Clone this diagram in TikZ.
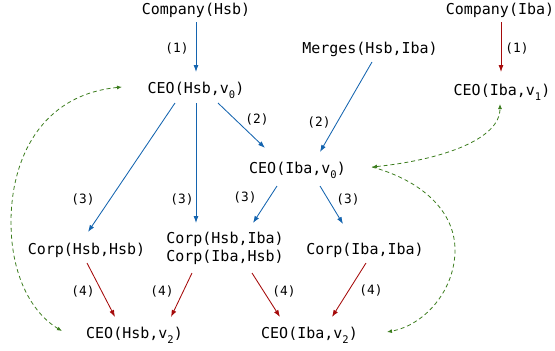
\documentclass[tikz,border=0pt]{standalone}
\usepackage{fontspec}
\setmonofont{DejaVu Sans Mono}
\usetikzlibrary{arrows.meta}
\definecolor{cblue}{RGB}{20,100,175}
\definecolor{cred}{RGB}{165,10,10}
\definecolor{cgreen}{RGB}{60,125,30}
\newcommand{\lowsub}[1]{\raisebox{-5pt}{\fontsize{10.5}{12}\selectfont #1}}
\begin{document}
\begin{tikzpicture}[x=1pt,y=-1pt,
  txt/.style={font=\ttfamily\fontsize{15}{18}\selectfont, inner sep=0pt, anchor=base},
  lbl/.style={font=\ttfamily\fontsize{12.8}{15}\selectfont, inner sep=0pt},
  barrow/.style={draw=cblue, line width=0.85pt, -{Latex[length=7pt,width=5pt]}},
  rarrow/.style={draw=cred, line width=0.85pt, -{Latex[length=7pt,width=5pt]}},
  garrow/.style={draw=cgreen, line width=0.8pt, dash pattern=on 4pt off 3pt, {Latex[length=5pt,width=4pt]}-{Latex[length=5pt,width=4pt]}},
  garrowend/.style={draw=cgreen, line width=0.8pt, dash pattern=on 4pt off 3pt, -{Latex[length=5pt,width=4pt]}}]
\useasboundingbox (0,0) rectangle (555,351);
% nodes
\node[txt] (ch) at (196,14) {Company(Hsb)};
\node[txt] (ci) at (500,14) {Company(Iba)};
\node[txt] (m) at (370,53) {Merges(Hsb,Iba)};
\node[txt] (h0) at (196,93) {CEO(Hsb,v\lowsub{0})};
\node[txt] (i1) at (502,95) {CEO(Iba,v\lowsub{1})};
\node[txt] (i0) at (297.5,173) {CEO(Iba,v\lowsub{0})};
\node[txt] (chh) at (86.5,254) {Corp(Hsb,Hsb)};
\node[txt, anchor=center, align=center] (chi) at (225,248) {Corp(Hsb,Iba)\\Corp(Iba,Hsb)};
\node[txt] (cii) at (365,254) {Corp(Iba,Iba)};
\node[txt] (h2) at (134.5,338) {CEO(Hsb,v\lowsub{2})};
\node[txt] (i2) at (309.5,338) {CEO(Iba,v\lowsub{2})};
% labels
\node[lbl] (l1a) at (177,48) {(1)};
\node[lbl] (l1b) at (517,48) {(1)};
\node[lbl] (l2a) at (257,119) {(2)};
\node[lbl] (l2b) at (319,122) {(2)};
\node[lbl] (l3a) at (83,199) {(3)};
\node[lbl] (l3b) at (182,199) {(3)};
\node[lbl] (l3c) at (245,197) {(3)};
\node[lbl] (l3d) at (348,199) {(3)};
\node[lbl] (l4a) at (83,291) {(4)};
\node[lbl] (l4b) at (162,291) {(4)};
\node[lbl] (l4c) at (284,291) {(4)};
\node[lbl] (l4d) at (371,290) {(4)};
% blue arrows
\draw[barrow] ([shift={(0,8)}]ch.base) -- ([shift={(0,-21)}]h0.base);
\draw[barrow] ([shift={(22,10)}]h0.base) -- ([shift={(-32.5,-25)}]i0.base);
\draw[barrow] ([shift={(2,9)}]m.base) -- ([shift={(22.5,-21)}]i0.base);
\draw[barrow] ([shift={(-21,10)}]h0.base) -- ([shift={(1.5,-22)}]chh.base);
\draw[barrow] ([shift={(0,10)}]h0.base) -- ([shift={(-29,-25)}]chi.center);
\draw[barrow] ([shift={(-20.5,13)}]i0.base) -- ([shift={(28,-25)}]chi.center);
\draw[barrow] ([shift={(22.5,13)}]i0.base) -- ([shift={(-22,-30)}]cii.base);
% red arrows
\draw[rarrow] ([shift={(1,8)}]ci.base) -- ([shift={(-1,-23)}]i1.base);
\draw[rarrow] ([shift={(0.5,9)}]chh.base) -- ([shift={(-19.5,-21)}]h2.base);
\draw[rarrow] ([shift={(-33,25)}]chi.center) -- ([shift={(36.5,-21)}]h2.base);
\draw[rarrow] ([shift={(27,25)}]chi.center) -- ([shift={(-29.5,-21)}]i2.base);
\draw[rarrow] ([shift={(1,9)}]cii.base) -- ([shift={(22.5,-21)}]i2.base);
% green dashed
\draw[garrow] ([shift={(-74,-6)}]h0.base) .. controls (40,95) and (11,160) .. (11,222) .. controls (11,280) and (35,315) .. ([shift={(-72.5,-7)}]h2.base);
\draw[garrow] ([shift={(74.5,-6)}]i0.base) .. controls (440,160) and (500,140) .. ([shift={(-2,9)}]i1.base);
\draw[garrowend] ([shift={(74.5,-6)}]i0.base) .. controls (420,180) and (455,210) .. (455,250) .. controls (455,290) and (425,325) .. ([shift={(77.5,-6)}]i2.base);
\end{tikzpicture}
\end{document}
